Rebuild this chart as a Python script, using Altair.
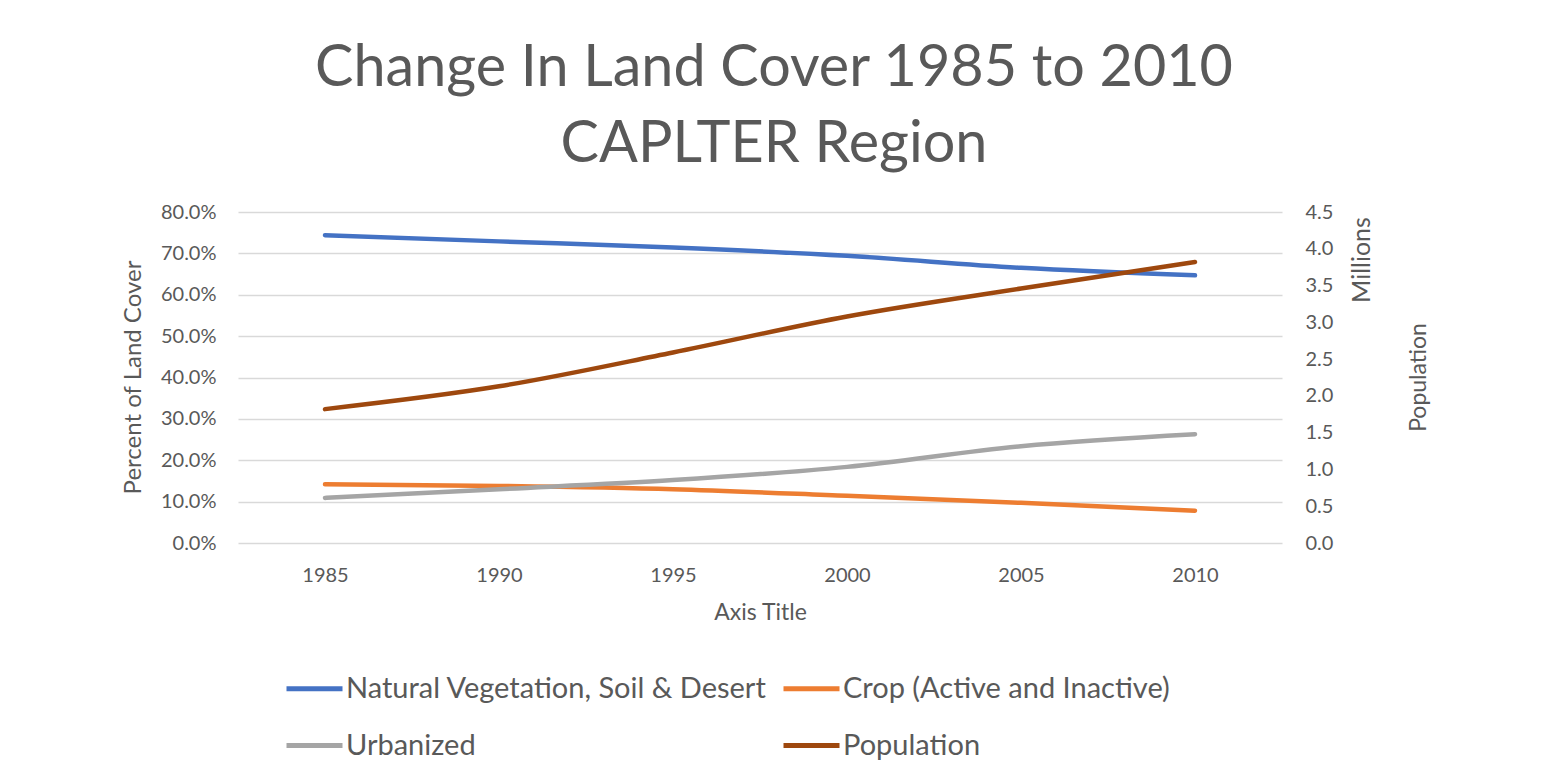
import altair as alt
import pandas as pd

years = ["1985", "1990", "1995", "2000", "2005", "2010"]
natural = [0.744, 0.729, 0.714, 0.694, 0.665, 0.647]
crop = [0.142, 0.138, 0.130, 0.114, 0.097, 0.078]
urban = [0.109, 0.130, 0.152, 0.184, 0.234, 0.263]
population = [1.82, 2.13, 2.59, 3.08, 3.46, 3.82]

# legend order (column-major fill in a 2-column legend)
series_names = ["Natural Vegetation, Soil & Desert", "Urbanized", "Crop (Active and Inactive)", "Population"]
series_colors = ["#4472C4", "#A5A5A5", "#ED7D31", "#9E480E"]
pct_ticks = [0.0, 0.1, 0.2, 0.3, 0.4, 0.5, 0.6, 0.7, 0.8]
pop_ticks = [0.0, 0.5, 1.0, 1.5, 2.0, 2.5, 3.0, 3.5, 4.0, 4.5]

FONT = "Lato"
GREY = "#595959"

rows = []
for name, vals in zip(["Natural Vegetation, Soil & Desert", "Crop (Active and Inactive)", "Urbanized"],
                      [natural, crop, urban]):
    for y, v in zip(years, vals):
        rows.append({"year": y, "series": name, "value": v})
land = pd.DataFrame(rows)
pop = pd.DataFrame({"year": years, "series": "Population", "pop": population})

color = alt.Color(
    "series:N",
    scale=alt.Scale(domain=series_names, range=series_colors),
    legend=alt.Legend(
        title=None, orient="none", legendX=46, legendY=446, columns=2,
        symbolType="stroke", symbolSize=3136, symbolStrokeWidth=5,
        labelFont=FONT, labelFontSize=29, labelColor=GREY, labelLimit=700,
        labelOffset=1, rowPadding=11, columnPadding=6,
    ),
)

xenc = alt.X(
    "year:O", sort=years,
    scale=alt.Scale(type="point", padding=0.5),
    axis=alt.Axis(
        title="Axis Title", labelAngle=0, domain=False, ticks=False, tickSize=0,
        labelPadding=22, labelFont=FONT, labelFontSize=20, labelColor=GREY,
        titleFont=FONT, titleFontSize=23, titleFontWeight="normal", titleColor=GREY,
        titleY=69, titleBaseline="middle",
    ),
)

left = alt.Chart(land).mark_line(strokeWidth=4.5, interpolate="monotone", strokeCap="round").encode(
    x=xenc,
    y=alt.Y(
        "value:Q",
        scale=alt.Scale(domain=[0, 0.8], nice=False),
        axis=alt.Axis(
            title="Percent of  Land Cover", values=pct_ticks, format=".1%",
            domain=False, ticks=False, tickSize=0, labelPadding=22,
            labelFont=FONT, labelFontSize=20, labelColor=GREY,
            grid=True, gridColor="#D9D9D9", gridWidth=1.5,
            titleFont=FONT, titleFontSize=24, titleFontWeight="normal", titleColor=GREY,
            titleAngle=270, titleX=-105, titleY=165, titleBaseline="middle", titleAlign="center",
        ),
    ),
    color=color,
)

right = alt.Chart(pop).mark_line(strokeWidth=4.5, interpolate="monotone", strokeCap="round").encode(
    x=xenc,
    y=alt.Y(
        "pop:Q",
        scale=alt.Scale(domain=[0, 4.5], nice=False),
        axis=alt.Axis(
            title="Population", orient="right", values=pop_ticks, format=".1f",
            domain=False, ticks=False, tickSize=0, labelPadding=23, grid=False,
            labelFont=FONT, labelFontSize=20, labelColor=GREY,
            titleFont=FONT, titleFontSize=23, titleFontWeight="normal", titleColor=GREY,
            titleAngle=270, titleX=136, titleY=165, titleBaseline="middle", titleAlign="center",
        ),
    ),
    color=color,
)

millions = alt.Chart(pd.DataFrame({"t": ["Millions"]})).mark_text(
    angle=270, font=FONT, fontSize=25, color=GREY, align="center", baseline="middle"
).encode(x=alt.value(1124), y=alt.value(48), text="t:N")

chart = alt.layer(left, right, millions).resolve_scale(y="independent").properties(
    width=1044, height=331,
    title=alt.TitleParams(
        text=["Change In Land Cover 1985 to 2010", "CAPLTER Region"],
        font=FONT, fontSize=57.5, fontWeight="normal", color=GREY,
        anchor="middle", frame="group", dx=14, lineHeight=76, offset=28,
    ),
    autosize=alt.AutoSizeParams(type="none"),
    padding={"left": 230, "top": 204, "right": 270, "bottom": 218},
).configure_view(stroke=None)

chart.save("out.html", embed_options={"renderer": "svg", "actions": False})
